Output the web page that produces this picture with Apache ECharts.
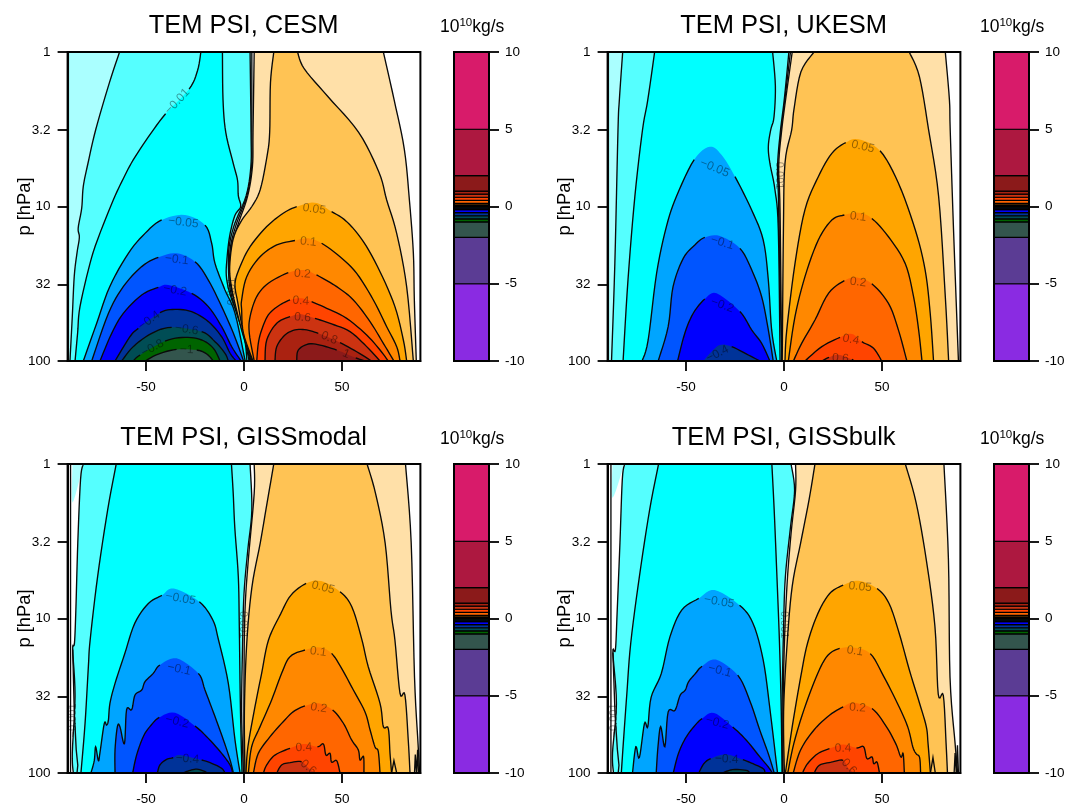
<!DOCTYPE html>
<html><head><meta charset="utf-8">
<style>html,body{margin:0;padding:0;background:#fff}#c{width:1068px;height:807px;filter:blur(.35px)}</style>
<script src="https://cdn.jsdelivr.net/npm/echarts@6/dist/echarts.min.js"></script></head>
<body><div id="c"></div>
<script>
// Pressure ticks, latitude ticks, colour-bar data
const pTicks=[1,3.2,10,32,100];
const latTicks=[-50,0,50];
const barTicks=[-10,-5,0,5,10];
const barLevels=[-10,-5,-2,-1,-.8,-.6,-.4,-.2,-.1,-.05,-.01,-.005,-.001,.001,.005,.01,.05,.1,.2,.4,.6,.8,1,2,5,10];
const barColors=['#8a2be2','#5b3c94','#33554d','#006400','#004d55','#003399','#0000ff','#0055ff','#00a5ff','#00ffff','#55ffff','#aaffff','#ffffff','#ffffff','#ffe0a8','#ffc354','#ffa500','#ff8800','#ff6600','#ff4400','#cc3311','#aa2211','#8b1a1a','#ad1840','#d81b6a'];
const fill={'-0.001':'#aaffff','-0.005':'#55ffff','-0.01':'#00ffff','-0.05':'#00a5ff','-0.1':'#0055ff','-0.2':'#0000ff','-0.4':'#003399','-0.6':'#004d55','-0.8':'#006400','-1':'#33554d','0.005':'#ffe0a8','0.01':'#ffc354','0.05':'#ffa500','0.1':'#ff8800','0.2':'#ff6600','0.4':'#ff4400','0.6':'#cc3311','0.8':'#aa2211','1':'#8b1a1a'};

// Contours: flat lists of latitude, log10(p)
const cesm_m001=[-89.6,0,-89.6,2,3,2,1.2,1.89,-2.9,1.69,-6.4,1.54,-7.3,1.41,-6.9,1.26,-3.8,1.11,1.5,.93,3.9,.74,4,.52,4,0];
const cesm_m005=[-63.5,0,-68.7,.2,-75.6,.5,-79.6,.72,-82,.87,-82.8,1.01,-84.6,1.14,-84,1.2,-85.2,1.3,-86.6,1.45,-87.6,1.71,-88.8,2,2.6,2,.7,1.89,-3.8,1.69,-7,1.54,-7.9,1.41,-7.6,1.26,-4.7,1.11,1.1,.93,3.5,.74,3.6,.52,3.1,0];
const cesm_m01=[-22,0,-23.7,.12,-28,.24,-40,.4,-48.8,.55,-56.6,.7,-61.6,.82,-66.7,.958,-74.3,1.2,-78.6,1.37,-83.7,1.65,-84.9,1.82,-86.2,2,1.5,2,.3,1.86,-3.8,1.69,-7.3,1.56,-9,1.45,-8.7,1.34,-7.3,1.19,-4.7,1.06,-1.7,1,-2.9,.93,-3.3,.83,-5.5,.72,-9.3,.52,-10.7,.31,-11,0];
const cesm_m05=[-82,2,-75.2,1.757,-68.5,1.519,-59,1.303,-50.5,1.174,-42,1.087,-30.1,1.055,-19.9,1.12,-16.5,1.238,-14.8,1.368,-9.7,1.54,-4.6,1.69,.6,2];
const cesm_m1=[-77.7,2,-69.2,1.692,-61.6,1.519,-52.2,1.389,-43.7,1.329,-34.4,1.303,-25,1.357,-18.2,1.476,-11.4,1.648,-5.4,1.821,-.2,2];
const cesm_m2=[-73.5,2,-67.5,1.821,-61.6,1.692,-52.2,1.573,-43.7,1.523,-38.6,1.508,-26.7,1.562,-18.2,1.648,-11.4,1.778,-6.3,1.907,-1.5,2];
const cesm_m4=[-65.8,2,-58.2,1.843,-53.9,1.789,-42.9,1.687,-35.2,1.666,-26.7,1.681,-18.2,1.745,-11.4,1.843,-7.1,1.95,-4,2];
const cesm_m6=[-62.4,2,-56.5,1.907,-47.1,1.821,-36.9,1.782,-21.6,1.81,-14.8,1.875,-9.7,1.95,-8,2];
const cesm_m8=[-56.5,2,-53,1.961,-40.3,1.871,-30.1,1.847,-21.6,1.864,-15.6,1.918,-12.2,2];
const cesm_m10=[-50.5,2,-43.7,1.955,-34.4,1.925,-24.1,1.929,-19,1.955,-15.6,2];
const cesm_p005=[5.2,0,4.6,.52,4.3,.74,1.9,.93,-2.9,1.11,-6.4,1.26,-6.9,1.41,-5.9,1.54,-2.4,1.69,1.7,1.89,3.4,2,87.9,2,86.9,1.6,86.4,1.3,84.4,.96,81.8,.63,76.6,.31,71.1,0];
const cesm_p01=[15.2,0,13.5,.2,13.1,.52,11.8,.67,8.3,.89,4,1,-1.2,1.09,-5.5,1.21,-7.3,1.39,-6.4,1.52,-3.8,1.67,-.3,1.84,3.7,2,86.4,2,83,1.52,77.9,1.174,72.8,.958,68.9,.78,58.5,.52,42.9,.29,30.8,.11,27.3,0];
const cesm_p05=[4.1,2,-.5,1.8,-3.2,1.62,-4.6,1.5,-2,1.389,3.1,1.26,11.6,1.13,20,1.044,26.9,1.001,36.2,.975,44.7,1.033,52.4,1.098,60.9,1.227,69.4,1.422,77,1.648,81.3,1.864,83,2];
const cesm_p1=[4.6,2,-.3,1.82,-1.2,1.67,-1.2,1.605,1.4,1.454,8.2,1.325,16.7,1.249,26,1.22,32.8,1.206,39.6,1.238,49,1.325,57.5,1.433,66,1.605,72.8,1.778,77.9,1.907,79.6,2];
const cesm_p2=[5.2,2,2.7,1.821,3.1,1.713,6.5,1.583,12.4,1.497,22.6,1.428,30.3,1.411,37,1.443,47.3,1.519,55.8,1.605,64.3,1.745,71.1,1.886,76.5,2];
const cesm_p4=[6.5,2,7.3,1.886,9,1.799,12.4,1.702,17.5,1.644,23.5,1.605,29.4,1.594,34.5,1.616,42.2,1.659,52.4,1.724,62.6,1.832,69.4,1.929,73.6,2];
const cesm_p6=[10.7,2,11.6,1.864,16.7,1.756,23.5,1.713,29.4,1.698,36.2,1.724,44.7,1.76,54.1,1.81,62.6,1.907,69.4,2];
const cesm_p8=[15.8,2,16.7,1.907,20.9,1.832,26,1.799,32,1.799,37.9,1.821,43,1.847,49,1.881,57.5,1.94,65.1,2];
const cesm_p10=[26.9,2,27.7,1.929,32.8,1.89,38.8,1.897,47.3,1.929,52.4,1.955,57,1.98,61.7,2];

const uk_m001=[-89.6,0,-89.6,2,-.5,2,-1.6,1.6,-2.5,1.17,-2.5,.74,-1.6,.52,.5,.3,3.3,0];
const uk_m005=[-82.3,0,-84,.31,-84.7,.505,-86.3,1.368,-88,2,-1,2,-2.3,1.39,-2.8,.96,-3.3,.74,-1.9,.52,.2,.3,2.5,0];
const uk_m01=[-66,0,-69.5,.31,-72.2,.505,-76.1,.936,-79.6,1.476,-82.1,2,-2,2,-2.9,1.152,-4.6,.893,-7.2,.72,-8,.613,-6.8,.505,-5.1,.42,-4.4,.22,-5.8,0];
const uk_m05=[-72.4,2,-69.3,1.864,-65,1.432,-60,1.13,-54.9,.936,-45.8,.696,-37.8,.613,-31.8,.667,-25,.807,-16.5,1.023,-10.6,1.217,-8,1.476,-6.3,1.799,-3.7,2];
const uk_m1=[-64.2,2,-59.1,1.778,-56.6,1.519,-51.4,1.336,-45.5,1.249,-40.4,1.2,-32.7,1.191,-22.5,1.271,-16.5,1.41,-11.4,1.584,-8,1.799,-5.5,2];
const uk_m2=[-54.3,2,-50.6,1.82,-46.3,1.691,-40.4,1.599,-34.4,1.562,-22.5,1.68,-16.5,1.799,-11.4,1.886,-7.2,2];
const uk_m4=[-41.2,2,-37,1.94,-32.7,1.896,-26.7,1.907,-18.2,1.961,-12.3,2];
const uk_p005=[4.2,0,.9,.3,-1.3,.52,-2.7,.74,-2,1.04,-1.2,2,89,2,86.5,1.152,84.8,.505,84.4,.31,82.3,0];
const uk_p01=[15.3,0,8.6,.13,5.1,.37,3.9,.505,.5,.72,-.3,1.152,-.9,2,84,2,82.3,1.584,78.9,.936,73.8,.505,69.1,.16,63.9,0];
const uk_p05=[.5,2,1.4,1.8,5.6,1.37,10.7,1.02,17.5,.807,24.4,.656,31.5,.586,38,.565,49,.639,58.4,.85,67,1.152,72,1.41,74.6,1.691,76.3,2];
const uk_p1=[2.2,2,5.6,1.713,10.7,1.454,17.5,1.217,24.4,1.088,30.8,1.055,38,1.04,44.8,1.077,53.3,1.196,61.8,1.368,66.1,1.584,68.7,1.8,70.4,2];
const uk_p2=[4.8,2,9,1.886,15.8,1.735,22.7,1.562,30.8,1.48,37.1,1.46,44.8,1.5,53.3,1.627,58.4,1.8,62.7,2];
const uk_p4=[10.7,2,19.3,1.907,28.6,1.847,34.6,1.825,39.7,1.875,45.7,1.918,49.9,2];
const uk_p6=[19.3,2,23,1.976,28,1.96,34.6,1.99,35.4,2];

const mod_m001=[-87.5,0,-87.5,.25,-82,0];
const mod_edge=[-88.5,0,-88.5,2];
const mod_jagL=[-87.4,1.2,-86.6,1.6,-85.6,1.85,-84.8,1.95,-85.2,2];
const mod_jagR=[75.3,2,76.5,1.92,77.9,2,87,2,87.4,1.88,88,2,88.6,1.85,89,2];
const mod_m005=[-82,0,-83.4,.1,-84.8,.51,-85.8,.95,-86.5,1.16,-87.4,1.2,-86.2,1.5,-87.6,1.87,-87.1,2,-.3,2,-1.2,1.6,-.7,1.16,0,.84,1.9,.56,4,.3,3.1,0];
const mod_m01=[-65.2,0,-69.6,.3,-74.7,.73,-78.5,1.14,-79.4,1.31,-81.1,1.68,-83.2,2,-1,2,-1.8,1.6,-2.4,1.05,-2.9,.73,-4.7,.41,-5.5,.19,-6.4,0];
const mod_m05=[-78.1,2,-76.4,1.92,-75.7,1.83,-74.3,1.92,-73.5,1.87,-71.3,1.68,-70.1,1.69,-69.2,1.66,-68.4,1.55,-65.8,1.42,-60.9,1.23,-55.7,1.03,-48.8,.903,-41.9,.85,-35.8,.806,-22.8,.892,-15.9,1.01,-13,1.139,-8,1.42,-4.6,1.786,-2,2];
const mod_m1=[-65.8,2,-65.8,1.85,-64.6,1.7,-63.3,1.7,-61,1.81,-59.9,1.59,-57.3,1.59,-55.6,1.495,-52.2,1.463,-50.5,1.409,-46.3,1.355,-42.9,1.301,-34.4,1.258,-23.3,1.355,-19.9,1.463,-14.8,1.635,-10.5,1.786,-7.1,1.916,-5.4,2];
const mod_m2=[-56.8,2,-54.8,1.884,-51.4,1.765,-48,1.7,-43.2,1.64,-35.2,1.61,-25,1.696,-18.2,1.776,-11.4,1.873,-7.1,1.948,-5.8,2];
const mod_m4=[-44.2,2,-42.9,1.948,-39.5,1.912,-36.1,1.901,-32.7,1.884,-21.6,1.916,-16.5,1.937,-11.4,1.97,-9.7,2];
const mod_m6=[-31,2,-28,1.985,-24,1.975,-20,1.99,-19,2];
const mod_p005=[5.2,0,5.2,.19,2.2,.62,.5,.95,0,1.38,0,2,89.6,2,88.8,1.81,87,1.38,85.3,.51,82.4,0];
const mod_p01=[15.2,0,11.8,.25,8.3,.51,4,.8,1.4,1.16,.2,1.6,.5,2,84.7,2,83.8,1.786,82.1,1.495,79.6,1.484,77,1.139,75,.95,72,.51,67.1,.19,62.8,0];
const mod_p05=[1,2,2,1.83,5.6,1.571,9,1.355,12.5,1.139,18.7,.97,23.9,.85,31.7,.773,39.4,.758,49,.827,55,.924,60,1.13,63.4,1.312,69.4,1.549,71.1,1.7,73.6,1.711,74.5,1.873,75.3,2];
const mod_p1=[2.2,2,3.9,1.83,8.2,1.7,14.1,1.527,19.2,1.355,23.5,1.247,31.1,1.204,38.8,1.187,44.7,1.226,49.8,1.323,55.8,1.463,61.7,1.603,64.3,1.72,66.8,1.83,68.5,1.86,69.4,2];
const mod_p2=[4.8,2,7.3,1.873,13.3,1.765,20,1.668,25.2,1.603,31.1,1.566,38,1.549,45.2,1.592,50.7,1.678,54.9,1.786,58.3,1.85,59.2,1.916,61,1.894,61.2,2];
const mod_p4=[9.9,2,11.6,1.948,15.8,1.884,23.5,1.84,30.3,1.812,37.5,1.83,40.5,1.812,41.8,1.884,43.9,1.873,44.7,1.93,47.3,1.92,49,2];
const mod_p6=[16.7,2,19.2,1.948,23.5,1.933,29.4,1.927,33,1.97,36.2,2];

const blk_m001=[-87.5,0,-87.5,.22,-81.5,0];
const blk_edge=[-88.3,0,-88.3,2];
const blk_jagL=[-87.3,1.22,-86.2,1.62,-85,1.85,-84.2,1.95,-84.6,2];
const blk_jagR=[74.7,2,76,1.9,77.2,2,86.8,2,87.3,1.87,87.9,2,88.5,1.82,89,2];
const blk_m005=[-81.3,0,-82.5,.1,-83.7,.51,-85.1,.95,-86,1.2,-87.3,1.22,-85.5,1.55,-87.5,1.87,-87,2,-.7,2,-1,1.6,-.2,1.05,.7,.73,3.3,.41,5.4,.17,3.6,0];
const blk_m01=[-64,0,-68.6,.3,-73.8,.73,-78.2,1.16,-80.2,1.49,-82,1.81,-83,2,-1,2,-1.4,1.6,-2.3,1.16,-3.6,.73,-5,.3,-6.2,0];
const blk_m05=[-77.3,2,-75.6,1.83,-73.8,1.9,-71.2,1.68,-69.5,1.7,-67.8,1.51,-62.6,1.356,-58.2,1.119,-52.2,.946,-43.5,.87,-35.4,.816,-22.7,.914,-15.8,1.032,-10.6,1.27,-7.1,1.594,-3.3,2];
const blk_m1=[-65.2,2,-64.3,1.83,-62.9,1.7,-60.8,1.83,-59.1,1.605,-55.6,1.594,-53,1.497,-50.4,1.464,-48.7,1.41,-45.2,1.356,-41.8,1.309,-34.8,1.266,-23.6,1.367,-17.5,1.53,-12.3,1.724,-8,1.875,-5,2];
const blk_m2=[-56.5,2,-53.9,1.875,-50.4,1.778,-46.1,1.702,-41.8,1.648,-35.7,1.611,-26.2,1.702,-19.2,1.788,-12.3,1.896,-8,1.961,-5.9,2];
const blk_m4=[-43.5,2,-40.9,1.94,-37.4,1.907,-29.6,1.879,-21,1.914,-15.8,1.94,-10.6,1.972,-9.7,2];
const blk_m6=[-31.4,2,-26.2,1.978,-19.2,1.983,-17.5,2];
const blk_p005=[5.9,0,5.9,.17,3.6,.45,1.6,.77,.2,1.16,-.5,1.6,-.5,2,88.6,2,87.3,1.81,84.7,1.38,83.9,.62,81.6,0];
const blk_p01=[15.8,0,12.8,.23,8.5,.51,4.2,.79,1.6,1.16,-.2,1.6,.2,2,83.4,2,82.7,1.81,81.3,1.5,78.7,1.49,77,1.05,72.6,.62,67.4,.25,61.9,0];
const blk_p05=[.7,2,4.2,1.7,8.5,1.38,12,1.16,17.2,.97,23.2,.84,30.2,.784,38,.756,47.5,.806,53.6,.903,58.8,1.097,64,1.335,69.2,1.55,72.6,1.7,73.5,1.81,74.7,2];
const blk_p1=[1.9,2,5,1.81,10.2,1.59,17.2,1.356,22.4,1.238,28.4,1.194,35.4,1.188,44,1.227,51,1.378,57.9,1.55,63.1,1.7,65.7,1.83,67.4,1.875,69.2,1.9,69.7,2];
const blk_p2=[4.7,2,8.5,1.85,15.4,1.72,23.2,1.626,30.2,1.572,35.4,1.546,44.9,1.583,51.8,1.691,57,1.81,59.6,1.896,60.8,1.875,61.4,2];
const blk_p4=[9.4,2,12,1.94,17.2,1.875,23.2,1.842,30.2,1.816,37,1.838,40.6,1.83,42.3,1.907,44.9,1.896,45.8,1.94,47.5,1.93,48.7,2];
const blk_p6=[15.4,2,18,1.95,24.1,1.93,30.2,1.918,32.8,1.97,36.2,2];

// [level, contour, gapStartLat, gapEndLat, label, fillOnly]
const panels=[
 {name:'CESM',left:67.6,top:52,barLeft:454,contours:[
  ['-0.001',cesm_m001],['-0.005',cesm_m005],['-0.01',cesm_m01,-28,-40,'−0.01'],['-0.05',cesm_m05,-42,-19.9,'−0.05'],['-0.1',cesm_m1,-43.7,-25,'−0.1'],['-0.2',cesm_m2,-43.7,-26.7,'−0.2'],['-0.4',cesm_m4,-53.9,-42.9,'−0.4'],['-0.6',cesm_m6,-36.9,-21.6,'−0.6'],['-0.8',cesm_m8,-53,-40.3,'−0.8'],['-1',cesm_m10,-34.4,-24.1,'−1'],
  ['0.005',cesm_p005],['0.01',cesm_p01],['0.05',cesm_p05,26.9,44.7,'0.05'],['0.1',cesm_p1,26,39.6,'0.1'],['0.2',cesm_p2,22.6,37,'0.2'],['0.4',cesm_p4,23.5,34.5,'0.4'],['0.6',cesm_p6,23.5,36.2,'0.6'],['0.8',cesm_p8,37.9,49,'0.8'],['1',cesm_p10,47.3,57,'1']],
  notes:[[-6,1.55,'0.001',90]],extra:[]},
 {name:'UKESM',left:607.6,top:52,barLeft:994,contours:[
  ['-0.001',uk_m001],['-0.005',uk_m005],['-0.01',uk_m01],['-0.05',uk_m05,-45.8,-25,'−0.05'],['-0.1',uk_m1,-40.4,-22.5,'−0.1'],['-0.2',uk_m2,-40.4,-22.5,'−0.2'],['-0.4',uk_m4,-41.2,-26.7,'−0.4'],
  ['0.005',uk_p005],['0.01',uk_p01],['0.05',uk_p05,31.5,49,'0.05'],['0.1',uk_p1,30.8,44.8,'0.1'],['0.2',uk_p2,30.8,44.8,'0.2'],['0.4',uk_p4,28.6,39.7,'0.4'],['0.6',uk_p6,23,34.6,'0.6']],
  notes:[[-2.4,.8,'0.001',-90]],extra:[]},
 {name:'GISSmodal',left:67.6,top:464,barLeft:454,extra:[mod_edge,mod_jagL,mod_jagR],contours:[
  ['-0.001',mod_m001,null,null,null,true],['-0.005',mod_m005],['-0.01',mod_m01],['-0.05',mod_m05,-41.9,-22.8,'−0.05'],['-0.1',mod_m1,-42.9,-23.3,'−0.1'],['-0.2',mod_m2,-43.2,-25,'−0.2'],['-0.4',mod_m4,-36.1,-21.6,'−0.4'],['-0.6',mod_m6],
  ['0.005',mod_p005],['0.01',mod_p01],['0.05',mod_p05,31.7,49,'0.05'],['0.1',mod_p1,31.1,44.7,'0.1'],['0.2',mod_p2,31.1,45.2,'0.2'],['0.4',mod_p4,23.5,37.5,'0.4'],['0.6',mod_p6,29.4,36.2,'0.6']],
  notes:[[-87.3,1.66,'−0.001',90],[-.6,1.04,'0.001',-90]]},
 {name:'GISSbulk',left:607.6,top:464,barLeft:994,extra:[blk_edge,blk_jagL,blk_jagR],contours:[
  ['-0.001',blk_m001,null,null,null,true],['-0.005',blk_m005],['-0.01',blk_m01],['-0.05',blk_m05,-43.5,-22.7,'−0.05'],['-0.1',blk_m1,-41.8,-23.6,'−0.1'],['-0.2',blk_m2,-41.8,-26.2,'−0.2'],['-0.4',blk_m4,-37.4,-21,'−0.4'],['-0.6',blk_m6],
  ['0.005',blk_p005],['0.01',blk_p01],['0.05',blk_p05,30.2,47.5,'0.05'],['0.1',blk_p1,28.4,44,'0.1'],['0.2',blk_p2,30.2,44.9,'0.2'],['0.4',blk_p4,23.2,37,'0.4'],['0.6',blk_p6,30.2,36.2,'0.6']],
  notes:[[-86.5,1.66,'−0.001',90],[0,1.04,'0.001',-90]]}
];

const FONT='"Liberation Sans",Arial,sans-serif';
const LINE={fill:null,stroke:'#0a0a0a',lineWidth:1.35};
function toPts(a){const r=[];for(let i=0;i<a.length;i+=2)r.push([a[i],a[i+1]]);return r;}
function renderContour(c,api){
  const raw=toPts(c[1]);
  const px=raw.map(p=>api.coord([p[0],Math.pow(10,p[1])]));
  const edge=raw.map(p=>p[1]===0||p[1]===2);
  const n=px.length,segs=[];
  for(let i=0;i<n-1;i++){
    const s=[];
    if(edge[i]&&edge[i+1]){s.push(px[i]);}
    else{
      const p0=(i>0&&!edge[i])?px[i-1]:px[i],p1=px[i],p2=px[i+1],p3=(i<n-2&&!edge[i+1])?px[i+2]:px[i+1];
      for(let k=0;k<6;k++){const t=k/6,t2=t*t,t3=t2*t;
        s.push([0,1].map(d=>.5*(2*p1[d]+(p2[d]-p0[d])*t+(2*p0[d]-5*p1[d]+4*p2[d]-p3[d])*t2+(3*p1[d]-p0[d]-3*p2[d]+p3[d])*t3)));}
    }
    segs.push(s);
  }
  const all=[];segs.forEach(s=>all.push(...s));all.push(px[n-1]);
  const kids=[{type:'polygon',shape:{points:all},style:{fill:fill[c[0]],stroke:null},silent:true}];
  if(c[5])return {type:'group',children:kids};
  let a=-1,b=-1;
  if(c.length>2&&c[2]!=null){a=raw.findIndex(p=>p[0]===c[2]);b=raw.findIndex(p=>p[0]===c[3]);}
  const runs=[];let cur=[];
  segs.forEach((s,i)=>{
    if(a>=0&&i>=a&&i<b){if(cur.length){cur.push(px[i]);runs.push(cur);}cur=[];return;}
    cur.push(...s);
  });
  cur.push(px[n-1]);runs.push(cur);
  runs.forEach(r=>kids.push({type:'polyline',shape:{points:r},style:LINE}));
  if(a>=0&&b>=0&&c[4]){
    const A=px[a],B=px[b];let ang=Math.atan2(B[1]-A[1],B[0]-A[0]);
    if(ang>Math.PI/2)ang-=Math.PI;if(ang<-Math.PI/2)ang+=Math.PI;
    kids.push({type:'text',x:(A[0]+B[0])/2,y:(A[1]+B[1])/2,rotation:-ang,z2:50,style:{text:c[4],fill:'rgba(0,0,0,0.42)',font:'12px '+FONT,align:'center',verticalAlign:'middle'}});
  }
  return {type:'group',children:kids};
}
const option={animation:false,backgroundColor:'#fff',title:[],grid:[],xAxis:[],yAxis:[],series:[]};
const tickStyle={show:true,length:10,lineStyle:{color:'#000',width:1.8}};
const hiddenLine={show:true,onZero:false,lineStyle:{color:'#000',width:2}};
panels.forEach((P,i)=>{
  const g=i*2,cx=P.left+176;
  option.title.push({text:'TEM PSI, '+P.name,left:cx,top:P.top-39,padding:0,textAlign:'center',textStyle:{fontFamily:FONT,fontWeight:'normal',fontSize:25.5,color:'#000'}});
  option.title.push({text:'{a|10}{s|10}{a|kg/s}',left:P.barLeft-14,top:P.top-35,padding:0,textStyle:{rich:{a:{fontFamily:FONT,fontWeight:'normal',fontSize:17.5,color:'#000'},s:{fontFamily:FONT,fontWeight:'normal',fontSize:11.5,color:'#000',padding:[0,0,8,0]}}}});
  option.grid.push({left:P.left,top:P.top,width:352.8,height:309,show:false});
  option.grid.push({left:P.barLeft,top:P.top,width:35,height:309,show:false});
  option.xAxis.push({gridIndex:g,type:'value',min:-90,max:90,axisLine:hiddenLine,splitLine:{show:false},
    axisTick:{...tickStyle,customValues:latTicks},
    axisLabel:{customValues:latTicks,margin:19,fontFamily:FONT,fontSize:13.5,color:'#000'}});
  option.yAxis.push({gridIndex:g,type:'log',logBase:10,min:1,max:100,inverse:true,name:'p [hPa]',nameLocation:'middle',nameGap:34,nameMoveOverlap:false,nameTextStyle:{fontFamily:FONT,fontSize:18.3,color:'#000'},
    axisLine:hiddenLine,splitLine:{show:false},minorTick:{show:false},
    axisTick:{...tickStyle,customValues:pTicks},
    axisLabel:{customValues:pTicks,margin:17,formatter:v=>String(+(+v).toFixed(1)),fontFamily:FONT,fontSize:13.5,color:'#000'}});
  option.xAxis.push({gridIndex:g+1,type:'value',min:0,max:1,show:false});
  option.yAxis.push({gridIndex:g+1,type:'value',min:-10,max:10,position:'right',axisLine:hiddenLine,splitLine:{show:false},
    axisTick:{...tickStyle,customValues:barTicks},
    axisLabel:{customValues:barTicks,margin:16,fontFamily:FONT,fontSize:13.5,color:'#000'}});
  option.series.push({type:'custom',xAxisIndex:g,yAxisIndex:g,clip:true,z:3,silent:true,
    data:P.contours.map(()=>[0,10]),
    renderItem:(p,api)=>renderContour(P.contours[p.dataIndex],api)});
  option.series.push({type:'custom',xAxisIndex:g,yAxisIndex:g,clip:true,z:4,silent:true,
    data:P.extra.map(()=>[0,10]),
    renderItem:(p,api)=>({type:'polyline',shape:{points:toPts(P.extra[p.dataIndex]).map(q=>api.coord([q[0],Math.pow(10,q[1])]))},style:LINE})});
  option.series.push({type:'custom',xAxisIndex:g,yAxisIndex:g,clip:true,z:4,silent:true,
    data:P.notes.map(()=>[0,10]),
    renderItem:(p,api)=>{const N=P.notes[p.dataIndex],q=api.coord([N[0],Math.pow(10,N[1])]);
      return {type:'text',x:q[0],y:q[1],rotation:N[3]*Math.PI/180,style:{text:N[2],fill:'rgba(0,0,0,0.4)',font:'11px '+FONT,align:'center',verticalAlign:'middle'}};}});
  option.series.push({type:'custom',xAxisIndex:g,yAxisIndex:g,clip:false,z:5,silent:true,data:[[0,10]],
    renderItem:(p,api)=>({type:'polygon',shape:{points:[[-90,1],[90,1],[90,100],[-90,100]].map(q=>api.coord(q))},style:{fill:null,stroke:'#000',lineWidth:2}})});
  option.series.push({type:'custom',xAxisIndex:g+1,yAxisIndex:g+1,clip:false,z:3,silent:true,
    data:barColors.map((c,k)=>[0,barLevels[k],1,barLevels[k+1]]),
    renderItem:(p,api)=>{const a=api.coord([0,api.value(1)]),b=api.coord([1,api.value(3)]);
      return {type:'rect',shape:{x:a[0],y:b[1],width:b[0]-a[0],height:a[1]-b[1]},style:{fill:barColors[p.dataIndex],stroke:'#000',lineWidth:1.2}};}});
  option.series.push({type:'custom',xAxisIndex:g+1,yAxisIndex:g+1,clip:false,z:5,silent:true,data:[[0,10]],
    renderItem:(p,api)=>({type:'polygon',shape:{points:[[0,10],[1,10],[1,-10],[0,-10]].map(q=>api.coord(q))},style:{fill:null,stroke:'#000',lineWidth:2}})});
});
echarts.init(document.getElementById('c'),null,{renderer:'canvas'}).setOption(option);
</script></body></html>
